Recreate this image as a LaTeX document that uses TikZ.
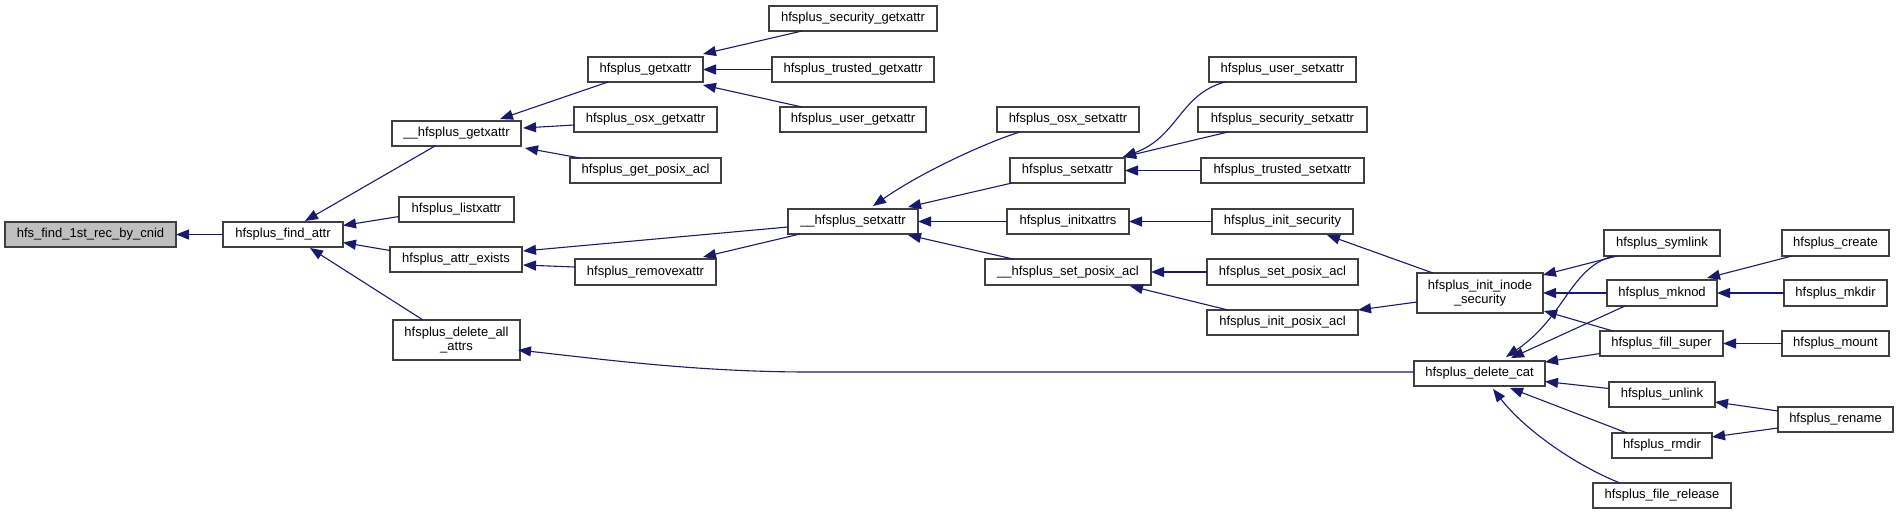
\documentclass[tikz,border=0pt]{standalone}
\usepackage{fontspec}
\setmainfont{Liberation Sans}
\usetikzlibrary{arrows.meta,calc}
\definecolor{edgeblue}{HTML}{191970}
\definecolor{rootfill}{HTML}{BFBFBF}
\definecolor{boxline}{HTML}{404040}
\newcommand\mkbox[7][box]{%
  \pgfmathsetmacro\bxcx{(#3+#5)/2}%
  \pgfmathsetmacro\bxcy{(#4+#6)/2}%
  \pgfmathsetmacro\bxw{#5-#3}%
  \pgfmathsetmacro\bxh{#6-#4}%
  \node[#1,minimum width=\bxw pt,minimum height=\bxh pt] (#2) at (\bxcx,\bxcy) {#7};}
\tikzset{
  box/.style={draw=boxline,line width=1.2pt,fill=white,inner sep=0pt,outer sep=0pt,
    align=center,font=\fontsize{13}{14.5}\selectfont,text=black},
  rootbox/.style={box,fill=rootfill},
  edge/.style={draw=edgeblue,line width=1.1pt,-{Triangle[length=13pt,width=10pt]}},
}
\begin{document}
\begin{tikzpicture}[x=1pt,y=-1pt]
\useasboundingbox (0,0) rectangle (1899,515);
\mkbox[rootbox]{r}{5}{222}{176}{247}{hfs\_find\_1st\_rec\_by\_cnid}
\mkbox{fa}{223}{222}{343}{247}{hfsplus\_find\_attr}
\mkbox{gxu}{392}{121}{521}{146}{\_\_hfsplus\_getxattr}
\mkbox{lx}{399}{197}{514}{222}{hfsplus\_listxattr}
\mkbox{ae}{390}{247}{522}{272}{hfsplus\_attr\_exists}
\mkbox{daa}{393}{320}{520}{360}{hfsplus\_delete\_all\\\_attrs}
\mkbox{gx}{588}{57}{703}{82}{hfsplus\_getxattr}
\mkbox{ogx}{574}{107}{717}{132}{hfsplus\_osx\_getxattr}
\mkbox{gpa}{570}{158}{721}{183}{hfsplus\_get\_posix\_acl}
\mkbox{sgx}{769}{6}{937}{31}{hfsplus\_security\_getxattr}
\mkbox{tgx}{772}{57}{934}{82}{hfsplus\_trusted\_getxattr}
\mkbox{ugx}{780}{107}{926}{132}{hfsplus\_user\_getxattr}
\mkbox{sxu}{788}{209}{918}{234}{\_\_hfsplus\_setxattr}
\mkbox{rx}{575}{259}{716}{285}{hfsplus\_removexattr}
\mkbox{osx}{997}{107}{1139}{132}{hfsplus\_osx\_setxattr}
\mkbox{sx}{1010}{158}{1125}{183}{hfsplus\_setxattr}
\mkbox{ix}{1007}{209}{1129}{234}{hfsplus\_initxattrs}
\mkbox{spau}{985}{259}{1151}{285}{\_\_hfsplus\_set\_posix\_acl}
\mkbox{usx}{1209}{57}{1356}{82}{hfsplus\_user\_setxattr}
\mkbox{ssx}{1198}{107}{1367}{132}{hfsplus\_security\_setxattr}
\mkbox{tsx}{1201}{158}{1364}{183}{hfsplus\_trusted\_setxattr}
\mkbox{is}{1212}{209}{1353}{234}{hfsplus\_init\_security}
\mkbox{spa}{1207}{259}{1358}{285}{hfsplus\_set\_posix\_acl}
\mkbox{ipa}{1207}{310}{1358}{335}{hfsplus\_init\_posix\_acl}
\mkbox{iis}{1417}{273}{1543}{313}{hfsplus\_init\_inode\\\_security}
\mkbox{dc}{1414}{361}{1545}{386}{hfsplus\_delete\_cat}
\mkbox{sym}{1604}{230}{1720}{256}{hfsplus\_symlink}
\mkbox{cr}{1782}{230}{1889}{256}{hfsplus\_create}
\mkbox{mk}{1607}{280}{1717}{306}{hfsplus\_mknod}
\mkbox{md}{1784}{280}{1887}{306}{hfsplus\_mkdir}
\mkbox{fs}{1600}{331}{1723}{356}{hfsplus\_fill\_super}
\mkbox{mt}{1782}{331}{1889}{356}{hfsplus\_mount}
\mkbox{ul}{1609}{382}{1715}{407}{hfsplus\_unlink}
\mkbox{rn}{1778}{407}{1893}{432}{hfsplus\_rename}
\mkbox{rd}{1612}{433}{1712}{458}{hfsplus\_rmdir}
\mkbox{fr}{1593}{483}{1731}{508}{hfsplus\_file\_release}
% edges
\draw[edge] (fa.west) -- (r.east);
\draw[edge] ($(gxu.south west)+(43,0)$) -- ($(fa.north west)+(82,-1)$);
\draw[edge] ($(lx.west)+(0,7)$) -- ($(fa.east)+(0,-9)$);
\draw[edge] ($(ae.west)+(0,-9)$) -- ($(fa.east)+(0,8)$);
\draw[edge] ($(daa.north west)+(30,0)$) -- ($(fa.south west)+(87,1)$);
\draw[edge] ($(gx.south west)+(20,0)$) -- ($(gxu.north west)+(108,-2)$);
\draw[edge] ($(ogx.west)+(0,5.5)$) -- ($(gxu.east)+(2,-5.5)$);
\draw[edge] ($(gpa.north west)+(10,0)$) -- ($(gxu.south east)+(4,2)$);
\draw[edge] ($(sgx.south west)+(33,0)$) -- ($(gx.north east)+(0,-3)$);
\draw[edge] (tgx.west) -- (gx.east);
\draw[edge] ($(ugx.north west)+(22,0)$) -- ($(gx.south east)+(0,3)$);
\draw[edge] ($(sxu.west)+(0,5.5)$) -- ($(ae.east)+(1,-8.5)$);
\draw[edge] ($(rx.west)+(0,-5)$) -- ($(ae.east)+(1,5.5)$);
\draw[edge] ($(sxu.south west)+(12,0)$) -- ($(rx.north east)+(-13,-2)$);
\draw[edge] ($(osx.south west)+(23,0)$) .. controls +(-30,9) and +(50,-35) .. ($(sxu.north west)+(85,-3)$);
\draw[edge] ($(sx.south west)+(2,0)$) -- ($(sxu.north east)+(-10,-2)$);
\draw[edge] (ix.west) -- (sxu.east);
\draw[edge] ($(spau.north west)+(28,0)$) -- ($(sxu.south east)+(-10,1)$);
\draw[edge] ($(usx.south west)+(16,0)$) .. controls +(-45,12) and +(55,-20) .. ($(sx.north east)+(-2,-1)$);
\draw[edge] ($(ssx.south west)+(30,0)$) -- ($(sx.north east)+(-2,-1)$);
\draw[edge] (tsx.west) -- (sx.east);
\draw[edge] (is.west) -- (ix.east);
\draw[edge] (spa.west) -- (spau.east);
\draw[edge] ($(ipa.north west)+(21,0)$) -- ($(spau.south east)+(-21,1)$);
\draw[edge] ($(iis.north west)+(16,0)$) -- ($(is.south east)+(-26,1)$);
\draw[edge] ($(iis.west)+(0,9)$) -- (ipa.north east);
\draw[edge] ($(dc.west)+(0,-1.5)$) -- ++(-604,0) .. controls +(-110,0) and +(90,10) .. ($(daa.east)+(-2,10)$);
\draw[edge] ($(sym.south west)+(13,0)$) -- ($(iis.north east)+(0,2)$);
\draw[edge] (mk.west) -- (iis.east);
\draw[edge] ($(fs.north west)+(13,0)$) -- ($(iis.south east)+(1,-2)$);
\draw[edge] ($(sym.south west)+(9,0)$) .. controls +(-43,12) and +(59,-40) .. ($(dc.north west)+(92,-4)$);
\draw[edge] ($(mk.south west)+(18,0)$) -- ($(dc.north west)+(97,-3)$);
\draw[edge] ($(fs.west)+(0,10)$) -- ($(dc.north east)+(0,1)$);
\draw[edge] ($(ul.west)+(0,-6)$) -- ($(dc.east)+(0,8)$);
\draw[edge] ($(rd.north west)+(15,0)$) -- ($(dc.south west)+(96,2)$);
\draw[edge] ($(fr.north west)+(27,0)$) .. controls +(-45,-18) and +(32,41) .. ($(dc.south west)+(79,3)$);
\draw[edge] ($(cr.south west)+(10,0)$) -- ($(mk.north east)+(-10,-2)$);
\draw[edge] (md.west) -- (mk.east);
\draw[edge] (mt.west) -- (fs.east);
\draw[edge] ($(rn.west)+(0,-8.5)$) -- ($(ul.east)+(0,7.5)$);
\draw[edge] ($(rn.west)+(0,8.5)$) -- ($(rd.east)+(0,-8.5)$);
\end{tikzpicture}
\end{document}
